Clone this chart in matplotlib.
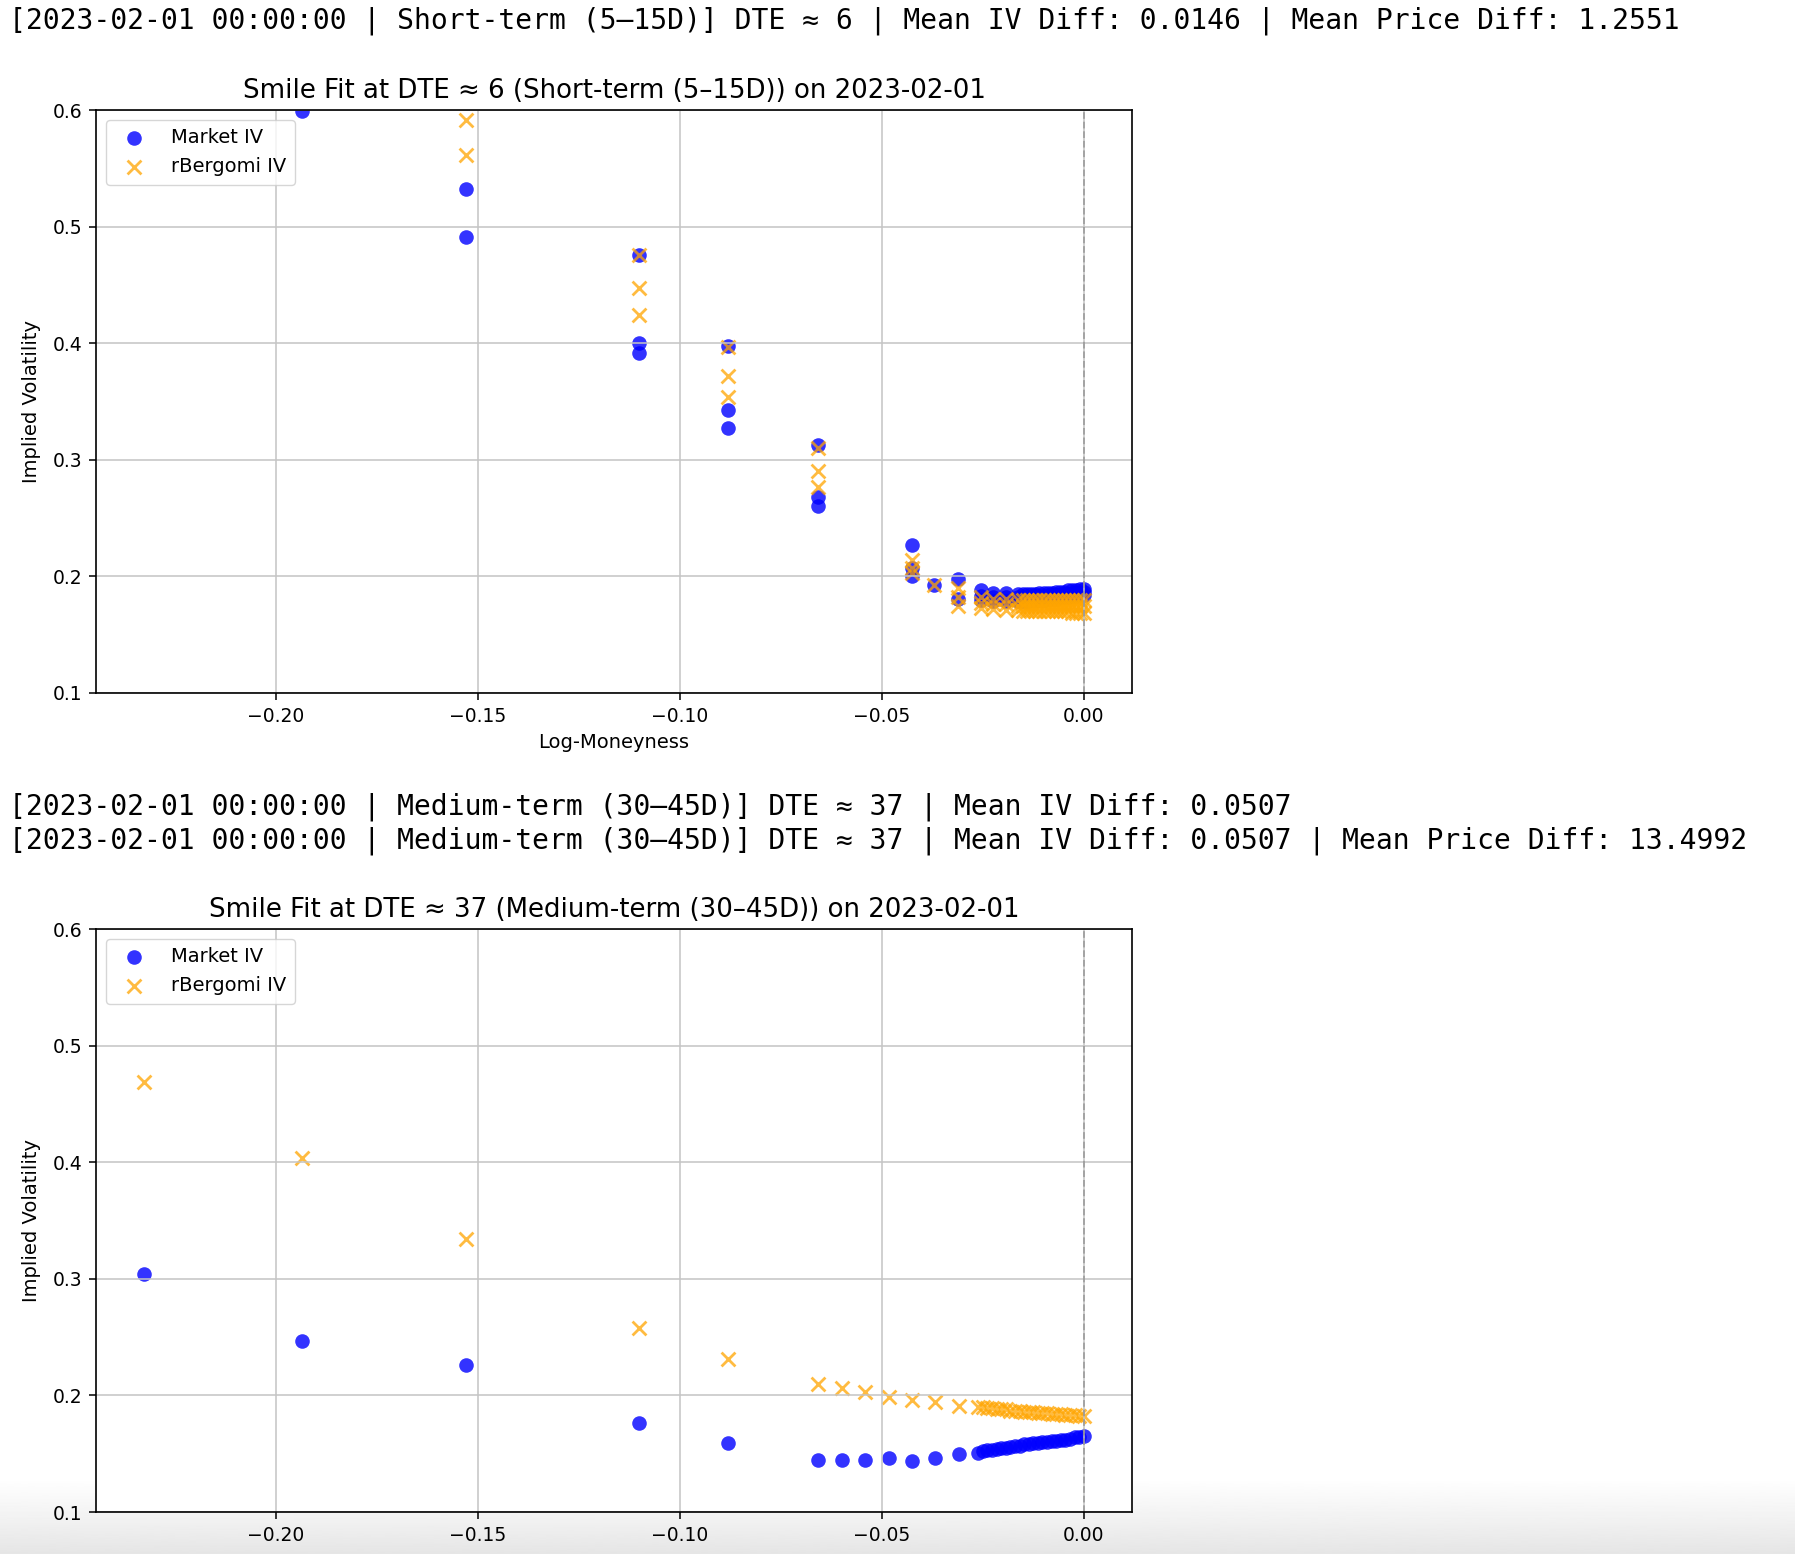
import numpy as np
import matplotlib.pyplot as plt

# notebook console lines
line_short = "[2023-02-01 00:00:00 | Short-term (5–15D)] DTE ≈ 6 | Mean IV Diff: 0.0146 | Mean Price Diff: 1.2551"
line_mid_a = "[2023-02-01 00:00:00 | Medium-term (30–45D)] DTE ≈ 37 | Mean IV Diff: 0.0507"
line_mid_b = "[2023-02-01 00:00:00 | Medium-term (30–45D)] DTE ≈ 37 | Mean IV Diff: 0.0507 | Mean Price Diff: 13.4992"

title_short = "Smile Fit at DTE ≈ 6 (Short-term (5–15D)) on 2023-02-01"
title_mid = "Smile Fit at DTE ≈ 37 (Medium-term (30–45D)) on 2023-02-01"

# --- short term (DTE ~ 6), far strikes
short_mkt_k = [-0.1935, -0.1530, -0.1530, -0.1100, -0.1100, -0.1100, -0.0881, -0.0881, -0.0881,
               -0.0657, -0.0657, -0.0657, -0.0425, -0.0425, -0.0425, -0.0371, -0.0312, -0.0312]
short_mkt_iv = [0.599, 0.532, 0.491, 0.476, 0.400, 0.392, 0.398, 0.343, 0.327,
                0.313, 0.268, 0.260, 0.227, 0.207, 0.200, 0.193, 0.198, 0.181]
short_mod_k = [-0.1530, -0.1530, -0.1100, -0.1100, -0.1100, -0.0881, -0.0881, -0.0881,
               -0.0657, -0.0657, -0.0657, -0.0425, -0.0425, -0.0425, -0.0371, -0.0312, -0.0312, -0.0312]
short_mod_iv = [0.591, 0.561, 0.476, 0.447, 0.424, 0.397, 0.372, 0.354,
                0.310, 0.290, 0.277, 0.214, 0.207, 0.203, 0.193, 0.190, 0.182, 0.175]

# short term, near-the-money strikes (three quotes per strike)
short_near_k = [-0.0254, -0.0225, -0.0192, -0.0164, -0.0150, -0.0140, -0.0130, -0.0120, -0.0110, -0.0100,
                -0.0090, -0.0080, -0.0070, -0.0060, -0.0050, -0.0040, -0.0030, -0.0020, -0.0010, 0.0000]
short_near_mkt1 = [0.188, 0.186, 0.186, 0.185, 0.185, 0.185, 0.185, 0.185, 0.186, 0.186,
                   0.186, 0.186, 0.187, 0.187, 0.187, 0.188, 0.188, 0.188, 0.189, 0.189]
short_near_mkt2 = [0.183, 0.182, 0.182, 0.182, 0.182, 0.182, 0.182, 0.183, 0.183, 0.183,
                   0.183, 0.184, 0.184, 0.184, 0.185, 0.185, 0.185, 0.186, 0.186, 0.187]
short_near_mkt3 = [0.180, 0.179, 0.179, 0.179, 0.179, 0.179, 0.180, 0.180, 0.180, 0.180,
                   0.181, 0.181, 0.181, 0.182, 0.182, 0.182, 0.183, 0.183, 0.184, 0.184]
short_near_mod1 = [0.182, 0.181, 0.181, 0.180, 0.180, 0.180, 0.180, 0.180, 0.180, 0.180,
                   0.180, 0.180, 0.180, 0.180, 0.180, 0.180, 0.180, 0.180, 0.180, 0.180]
short_near_mod2 = [0.177, 0.176, 0.176, 0.175, 0.175, 0.175, 0.175, 0.175, 0.175, 0.175,
                   0.175, 0.175, 0.175, 0.175, 0.175, 0.175, 0.175, 0.175, 0.175, 0.175]
short_near_mod3 = [0.173, 0.172, 0.171, 0.171, 0.170, 0.170, 0.170, 0.170, 0.170, 0.170,
                   0.170, 0.170, 0.170, 0.170, 0.170, 0.170, 0.169, 0.169, 0.169, 0.169]

# --- medium term (DTE ~ 37)
mid_k = [-0.2326, -0.1935, -0.1530, -0.1100, -0.0881, -0.0657, -0.0598, -0.0541, -0.0482, -0.0425,
         -0.0368, -0.0309, -0.0262, -0.0250, -0.0239, -0.0228, -0.0216, -0.0205, -0.0194, -0.0182,
         -0.0171, -0.0159, -0.0148, -0.0137, -0.0125, -0.0114, -0.0103, -0.0091, -0.0080, -0.0068,
         -0.0057, -0.0046, -0.0034, -0.0023, -0.0011, 0.0000]
mid_mkt_iv = [0.304, 0.247, 0.226, 0.176, 0.159, 0.145, 0.145, 0.145, 0.146, 0.144,
              0.146, 0.150, 0.151, 0.152, 0.153, 0.153, 0.154, 0.155, 0.155, 0.156,
              0.157, 0.157, 0.158, 0.158, 0.159, 0.159, 0.160, 0.160, 0.161, 0.161,
              0.162, 0.162, 0.163, 0.164, 0.164, 0.165]
mid_mod_iv = [0.469, 0.404, 0.334, 0.258, 0.231, 0.210, 0.206, 0.203, 0.199, 0.196,
              0.194, 0.191, 0.190, 0.190, 0.189, 0.189, 0.188, 0.188, 0.188, 0.187,
              0.187, 0.187, 0.186, 0.186, 0.186, 0.185, 0.185, 0.185, 0.184, 0.184,
              0.184, 0.183, 0.183, 0.183, 0.182, 0.182]


def draw_smile(ax, mkt_k, mkt_iv, mod_k, mod_iv, title, show_xlabel):
    ax.scatter(mkt_k, mkt_iv, s=110, color='blue', alpha=0.8, linewidths=0, label='Market IV')
    ax.scatter(mod_k, mod_iv, s=100, marker='x', color='orange', alpha=0.75,
               linewidths=2.0, label='rBergomi IV')
    ax.axvline(0, color='gray', linestyle='--', lw=1.3, alpha=0.6)
    ax.set_xlim(-0.2445, 0.0119)
    ax.set_ylim(0.1, 0.6)
    ax.set_xticks([-0.20, -0.15, -0.10, -0.05, 0.00])
    ax.set_yticks([0.1, 0.2, 0.3, 0.4, 0.5, 0.6])
    ax.grid(True, color='#c4c4c4', lw=1.1)
    ax.set_title(title, fontsize=18.7, pad=9)
    ax.set_ylabel('Implied Volatility', fontsize=14, labelpad=8)
    if show_xlabel:
        ax.set_xlabel('Log-Moneyness', fontsize=14, labelpad=5)
    ax.tick_params(labelsize=13.5, length=5, width=1.1, pad=5)
    for sp in ax.spines.values():
        sp.set_linewidth(1.2)
    ax.legend(loc='upper left', fontsize=14, borderpad=0.45, handletextpad=0.9)


fig = plt.figure(figsize=(17.95, 15.54), dpi=100)

# screenshot shading at the very bottom
ax_bg = fig.add_axes([0, 0, 1, 75 / 1554], zorder=-5)
shade = np.linspace(0.9, 1.0, 100).reshape(-1, 1)
ax_bg.imshow(shade, aspect='auto', cmap='gray', vmin=0, vmax=1, origin='lower',
             extent=[0, 1, 0, 1])
ax_bg.axis('off')

mono = dict(family='DejaVu Sans Mono', fontsize=20.2, va='center', ha='left')
fig.text(0.005, 1 - 21 / 1554, line_short, **mono)
fig.text(0.005, 1 - 807 / 1554, line_mid_a, **mono)
fig.text(0.005, 1 - 841 / 1554, line_mid_b, **mono)

ax1 = fig.add_axes([96 / 1795, 1 - 693 / 1554, 1036 / 1795, 583 / 1554])
short_k_all = short_mkt_k + short_near_k * 3
short_mkt_all = short_mkt_iv + short_near_mkt1 + short_near_mkt2 + short_near_mkt3
short_modk_all = short_mod_k + short_near_k * 3
short_mod_all = short_mod_iv + short_near_mod1 + short_near_mod2 + short_near_mod3
draw_smile(ax1, short_k_all, short_mkt_all, short_modk_all, short_mod_all, title_short, True)

ax2 = fig.add_axes([96 / 1795, 1 - 1512 / 1554, 1036 / 1795, 583 / 1554])
draw_smile(ax2, mid_k, mid_mkt_iv, mid_k, mid_mod_iv, title_mid, False)

fig.savefig('out.png', dpi=100)
